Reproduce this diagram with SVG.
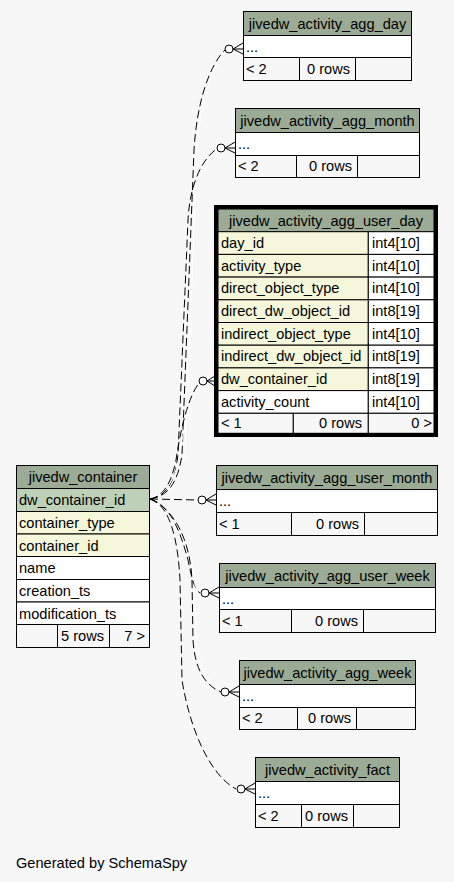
<svg xmlns="http://www.w3.org/2000/svg" width="454" height="882" viewBox="0 0 454 882">
<style>
text{font-family:"Liberation Sans",Arial,sans-serif;font-size:14.6px;fill:#000}
.c{text-anchor:middle}.r{text-anchor:end}
.h{fill:#9bab96;stroke:#000;stroke-width:1}
.k{fill:#bed1b8;stroke:#000;stroke-width:1}
.y{fill:#f4f7da;stroke:#000;stroke-width:1}
.w{fill:#fff;stroke:#000;stroke-width:1}
.f{fill:#f7f7f7;stroke:#000;stroke-width:1}
.e{fill:none;stroke:#000;stroke-width:1;stroke-dasharray:8,4}
.ew{fill:none;stroke:#fff;stroke-width:1}
.cf{fill:none;stroke:#000;stroke-width:1}
.dot{fill:#fff;stroke:#000;stroke-width:1}
</style>
<rect width="454" height="882" fill="#f7f7f7"/>
<g id="connectors">
<path class="ew" d="M152,497 C172,494 181,478 185,455 L197,150 C200,100 213,66 225,52"/>
<path class="e" d="M150,499 C170,496 178,480 182,455 L194,150 C197,100 210,65 225,50"/>
<path class="e" d="M150,499 C168,496 175,480 178,455 L188,220 C190,180 205,156 217,149"/>
<path class="ew" d="M152,497 C167,494 175,478 179,458 C185,420 192,395 200,386"/>
<path class="e" d="M150,499 C165,496 172,480 176,460 C182,420 190,395 199,383"/>
<path class="e" d="M150,499 L198,500"/>
<path class="ew" d="M152,503 C172,509 182,534 190,562 C194,580 197,588 201,591"/>
<path class="e" d="M150,499 C170,505 180,530 188,560 C192,580 195,590 200,593"/>
<path class="ew" d="M152,505 C178,516 193,545 195,582 L196,640 C198,668 208,683 222,690"/>
<path class="e" d="M150,499 C175,510 190,540 192,580 L193,640 C195,670 205,685 221,692"/>
<path class="e" d="M150,499 C170,505 178,540 180,580 L182,680 C190,730 210,775 236,789"/>
<circle class="dot" cx="229" cy="49" r="4"/><path class="cf" d="M233,49 L243,43 M233,49 L243,49 M233,49 L243,54"/>
<circle class="dot" cx="221" cy="148" r="4"/><path class="cf" d="M225,148 L235,142 M225,148 L235,148 M225,148 L235,153"/>
<circle class="dot" cx="203" cy="381" r="4"/><path class="cf" d="M207,381 L215,376 M207,381 L215,381 M207,381 L215,386"/>
<circle class="dot" cx="202" cy="500" r="4"/><path class="cf" d="M206,500 L216,494 M206,500 L216,500 M206,500 L216,505"/>
<circle class="dot" cx="205" cy="593" r="4"/><path class="cf" d="M209,593 L219,587 M209,593 L219,593 M209,593 L219,598"/>
<circle class="dot" cx="225" cy="692" r="4"/><path class="cf" d="M229,692 L239,686 M229,692 L239,692 M229,692 L239,697"/>
<circle class="dot" cx="241" cy="789" r="4"/><path class="cf" d="M245,789 L255,783 M245,789 L255,789 M245,789 L255,794"/>
</g>
<g id="jivedw_activity_agg_day">
<rect class="h" x="243.5" y="11.5" width="168" height="24"/>
<rect class="w" x="243.5" y="35.5" width="168" height="22"/>
<rect class="f" x="243.5" y="57.5" width="56" height="23"/>
<rect class="f" x="299.5" y="57.5" width="56" height="23"/>
<rect class="f" x="355.5" y="57.5" width="56" height="23"/>
<text class="c" x="327.5" y="29">jivedw_activity_agg_day</text>
<text x="246" y="52">...</text>
<text x="246" y="74">&lt; 2</text>
<text class="r" x="350" y="74">0 rows</text>
</g>
<g id="jivedw_activity_agg_month">
<rect class="h" x="235.5" y="108.5" width="184" height="24"/>
<rect class="w" x="235.5" y="132.5" width="184" height="23"/>
<rect class="f" x="235.5" y="155.5" width="61" height="22"/>
<rect class="f" x="296.5" y="155.5" width="61" height="22"/>
<rect class="f" x="357.5" y="155.5" width="62" height="22"/>
<text class="c" x="327.5" y="126">jivedw_activity_agg_month</text>
<text x="238" y="149">...</text>
<text x="238" y="171">&lt; 2</text>
<text class="r" x="352" y="171">0 rows</text>
</g>
<g id="jivedw_activity_agg_user_day">
<rect class="h" x="218" y="209" width="216" height="22.7"/>
<rect class="y" x="218" y="231.7" width="150.3" height="22.7"/><rect class="w" x="368.3" y="231.7" width="65.7" height="22.7"/>
<rect class="y" x="218" y="254.4" width="150.3" height="22.7"/><rect class="w" x="368.3" y="254.4" width="65.7" height="22.7"/>
<rect class="y" x="218" y="277.1" width="150.3" height="22.7"/><rect class="w" x="368.3" y="277.1" width="65.7" height="22.7"/>
<rect class="y" x="218" y="299.8" width="150.3" height="22.7"/><rect class="w" x="368.3" y="299.8" width="65.7" height="22.7"/>
<rect class="y" x="218" y="322.5" width="150.3" height="22.7"/><rect class="w" x="368.3" y="322.5" width="65.7" height="22.7"/>
<rect class="y" x="218" y="345.2" width="150.3" height="22.7"/><rect class="w" x="368.3" y="345.2" width="65.7" height="22.7"/>
<rect class="y" x="218" y="367.9" width="150.3" height="22.7"/><rect class="w" x="368.3" y="367.9" width="65.7" height="22.7"/>
<rect class="w" x="218" y="390.6" width="150.3" height="22.7"/><rect class="w" x="368.3" y="390.6" width="65.7" height="22.7"/>
<rect class="f" x="218" y="413.3" width="75.3" height="20"/>
<rect class="f" x="293.3" y="413.3" width="75" height="20"/>
<rect class="f" x="368.3" y="413.3" width="65.7" height="20"/>
<rect x="216" y="207" width="220" height="228" fill="none" stroke="#000" stroke-width="4"/>
<text class="c" x="326" y="226">jivedw_activity_agg_user_day</text>
<text x="221" y="248">day_id</text><text x="372" y="248">int4[10]</text>
<text x="221" y="271">activity_type</text><text x="372" y="271">int4[10]</text>
<text x="221" y="293">direct_object_type</text><text x="372" y="293">int4[10]</text>
<text x="221" y="316">direct_dw_object_id</text><text x="372" y="316">int8[19]</text>
<text x="221" y="339">indirect_object_type</text><text x="372" y="339">int4[10]</text>
<text x="221" y="361">indirect_dw_object_id</text><text x="372" y="361">int8[19]</text>
<text x="221" y="384">dw_container_id</text><text x="372" y="384">int8[19]</text>
<text x="221" y="407">activity_count</text><text x="372" y="407">int4[10]</text>
<text x="221" y="428">&lt; 1</text>
<text class="r" x="362" y="428">0 rows</text>
<text class="r" x="432" y="428">0 &gt;</text>
</g>
<g id="jivedw_container">
<rect class="h" x="16.5" y="465.5" width="133" height="23"/>
<rect class="k" x="16.5" y="488.5" width="133" height="23"/>
<rect class="y" x="16.5" y="511.5" width="133" height="22.5"/>
<rect class="y" x="16.5" y="534" width="133" height="22.5"/>
<rect class="w" x="16.5" y="556.5" width="133" height="23"/>
<rect class="w" x="16.5" y="579.5" width="133" height="22.5"/>
<rect class="w" x="16.5" y="602" width="133" height="22.5"/>
<rect class="f" x="16.5" y="624.5" width="41" height="23"/>
<rect class="f" x="57.5" y="624.5" width="52" height="23"/>
<rect class="f" x="109.5" y="624.5" width="40" height="23"/>
<text class="c" x="83" y="482">jivedw_container</text>
<text x="19" y="505">dw_container_id</text>
<text x="19" y="528">container_type</text>
<text x="19" y="551">container_id</text>
<text x="19" y="573">name</text>
<text x="19" y="596">creation_ts</text>
<text x="19" y="619">modification_ts</text>
<text class="r" x="104" y="641">5 rows</text>
<text class="r" x="145" y="641">7 &gt;</text>
</g>
<g id="jivedw_activity_agg_user_month">
<rect class="h" x="216.5" y="465.5" width="221" height="24"/>
<rect class="w" x="216.5" y="489.5" width="221" height="23"/>
<rect class="f" x="216.5" y="512.5" width="75" height="23"/>
<rect class="f" x="291.5" y="512.5" width="73" height="23"/>
<rect class="f" x="364.5" y="512.5" width="73" height="23"/>
<text class="c" x="327" y="483">jivedw_activity_agg_user_month</text>
<text x="219" y="506">...</text>
<text x="219" y="529">&lt; 1</text>
<text class="r" x="359" y="529">0 rows</text>
</g>
<g id="jivedw_activity_agg_user_week">
<rect class="h" x="219.5" y="563.5" width="216" height="24"/>
<rect class="w" x="219.5" y="587.5" width="216" height="22"/>
<rect class="f" x="219.5" y="609.5" width="72" height="23"/>
<rect class="f" x="291.5" y="609.5" width="72" height="23"/>
<rect class="f" x="363.5" y="609.5" width="72" height="23"/>
<text class="c" x="327.5" y="581">jivedw_activity_agg_user_week</text>
<text x="222" y="604">...</text>
<text x="222" y="626">&lt; 1</text>
<text class="r" x="358" y="626">0 rows</text>
</g>
<g id="jivedw_activity_agg_week">
<rect class="h" x="239.5" y="660.5" width="176" height="24"/>
<rect class="w" x="239.5" y="684.5" width="176" height="23"/>
<rect class="f" x="239.5" y="707.5" width="58" height="22"/>
<rect class="f" x="297.5" y="707.5" width="59" height="22"/>
<rect class="f" x="356.5" y="707.5" width="59" height="22"/>
<text class="c" x="327.5" y="678">jivedw_activity_agg_week</text>
<text x="242" y="701">...</text>
<text x="242" y="723">&lt; 2</text>
<text class="r" x="351" y="723">0 rows</text>
</g>
<g id="jivedw_activity_fact">
<rect class="h" x="255.5" y="757.5" width="144" height="24"/>
<rect class="w" x="255.5" y="781.5" width="144" height="23"/>
<rect class="f" x="255.5" y="804.5" width="46" height="23"/>
<rect class="f" x="301.5" y="804.5" width="52" height="23"/>
<rect class="f" x="353.5" y="804.5" width="46" height="23"/>
<text class="c" x="327.5" y="775">jivedw_activity_fact</text>
<text x="258" y="798">...</text>
<text x="258" y="821">&lt; 2</text>
<text x="305" y="821">0 rows</text>
</g>
<text x="16" y="868">Generated by SchemaSpy</text>
</svg>
